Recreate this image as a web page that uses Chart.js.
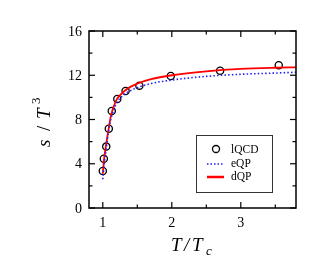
<!DOCTYPE html>
<html>
<head>
<meta charset="utf-8">
<script src="https://cdn.jsdelivr.net/npm/chart.js@4.4.1/dist/chart.umd.min.js"></script>
<style>
  html, body { margin: 0; padding: 0; background: #fff; overflow: hidden; }
  #grafico { display: block; }
</style>
</head>
<body>
<canvas id="grafico" width="327" height="269"></canvas>
<script>
// lattice points
const lqcdT = [1.0, 1.015, 1.05, 1.087, 1.13, 1.21, 1.33, 1.53, 1.985, 2.70, 3.55];
const lqcdS = [3.35, 4.46, 5.55, 7.17, 8.77, 9.86, 10.58, 11.06, 11.93, 12.41, 12.9];

// curves
const curveT = [1.0, 1.02, 1.05, 1.08, 1.12, 1.16, 1.2, 1.3, 1.4, 1.5, 1.7, 2.0, 2.5, 3.0, 3.5, 3.8];
const dqpS = [3.1, 4.5, 5.8, 7.0, 8.4, 9.2, 9.8, 10.5, 10.95, 11.25, 11.65, 12.0, 12.35, 12.57, 12.68, 12.72];
const eqpS = [2.6, 4.0, 5.4, 6.8, 8.1, 8.9, 9.5, 10.2, 10.6, 10.88, 11.25, 11.57, 11.9, 12.09, 12.2, 12.27];

const xTicks = [1, 2, 3];
const xMinor = [1.5, 2.5, 3.5];
const yTicks = [0, 4, 8, 12, 16];
const yMinor = [2, 6, 10, 14];

const pares = (xs, ys) => xs.map((x, i) => ({ x: x, y: ys[i] }));

const serif = '"Liberation Serif", "DejaVu Serif", serif';

// ejes, marcos y leyenda
const marco = {
  id: "marco",
  afterDraw(chart) {
    const c = chart.ctx;
    const a = chart.chartArea;
    const sx = chart.scales.x, sy = chart.scales.y;
    c.save();
    c.strokeStyle = "#000";
    c.lineWidth = 1.5;
    c.strokeRect(a.left, a.top, a.right - a.left, a.bottom - a.top);

    c.lineWidth = 1.2;
    const tick = (x1, y1, x2, y2) => { c.beginPath(); c.moveTo(x1, y1); c.lineTo(x2, y2); c.stroke(); };
    xTicks.forEach(v => { const p = sx.getPixelForValue(v); tick(p, a.bottom, p, a.bottom - 6); tick(p, a.top, p, a.top + 6); });
    xMinor.forEach(v => { const p = sx.getPixelForValue(v); tick(p, a.bottom, p, a.bottom - 3.5); tick(p, a.top, p, a.top + 3.5); });
    yTicks.forEach(v => { const p = sy.getPixelForValue(v); tick(a.left, p, a.left + 6, p); tick(a.right, p, a.right - 6, p); });
    yMinor.forEach(v => { const p = sy.getPixelForValue(v); tick(a.left, p, a.left + 3.5, p); tick(a.right, p, a.right - 3.5, p); });

    // etiquetas
    c.fillStyle = "#000";
    c.font = "14px " + serif;
    c.textAlign = "center";
    c.textBaseline = "top";
    xTicks.forEach(v => c.fillText(String(v), sx.getPixelForValue(v), a.bottom + 8));
    c.textAlign = "right";
    c.textBaseline = "middle";
    yTicks.forEach(v => c.fillText(String(v), a.left - 7, sy.getPixelForValue(v) + 1));

    // titulo x: T/T_c
    c.textBaseline = "alphabetic";
    c.textAlign = "left";
    c.font = "italic 19px " + serif;
    const x0 = 171, yb = 251;
    c.fillText("T", x0, yb);
    c.fillText("/", x0 + 13, yb);
    c.fillText("T", x0 + 21, yb);
    c.font = "italic 13px " + serif;
    c.fillText("c", x0 + 35, yb + 4);

    // titulo y: s / T^3
    c.save();
    c.translate(50, 120);
    c.rotate(-Math.PI / 2);
    c.textAlign = "left";
    c.font = "italic 19px " + serif;
    const xs = -27;
    c.fillText("s", xs, 0);
    c.font = "19px " + serif;
    c.fillText("/", xs + 16, 0);
    c.font = "italic 19px " + serif;
    c.fillText("T", xs + 28, 0);
    c.font = "13px " + serif;
    c.fillText("3", xs + 43, -10);
    c.restore();

    // leyenda
    const bx = 196, by = 135, bw = 76, bh = 57;
    c.fillStyle = "#fff";
    c.fillRect(bx, by, bw, bh);
    c.strokeStyle = "#333";
    c.lineWidth = 1;
    c.strokeRect(bx + 0.5, by + 0.5, bw, bh);
    c.font = "11.5px " + serif;
    c.fillStyle = "#000";
    c.textAlign = "left";
    c.textBaseline = "middle";
    c.lineWidth = 1.3;
    c.strokeStyle = "#000";
    c.beginPath(); c.arc(216, 149, 3.5, 0, Math.PI * 2); c.stroke();
    c.fillText("lQCD", 231, 149.5);
    c.strokeStyle = "#1f1fff";
    c.lineWidth = 1.5;
    c.setLineDash([1.5, 2]);
    c.beginPath(); c.moveTo(207, 164); c.lineTo(224, 164); c.stroke();
    c.setLineDash([]);
    c.fillText("eQP", 231, 164);
    c.strokeStyle = "#ff0000";
    c.lineWidth = 2.5;
    c.beginPath(); c.moveTo(207, 177); c.lineTo(224, 177); c.stroke();
    c.fillText("dQP", 231, 177);
    c.restore();
  }
};

new Chart(document.getElementById("grafico"), {
  type: "scatter",
  data: {
    datasets: [
      {
        label: "eQP",
        data: pares(curveT, eqpS),
        showLine: true,
        borderColor: "#1f1fff",
        borderWidth: 1.6,
        borderDash: [1.5, 2.2],
        pointRadius: 0,
        cubicInterpolationMode: "monotone",
      },
      {
        label: "dQP",
        data: pares(curveT, dqpS),
        showLine: true,
        borderColor: "#ff0000",
        borderWidth: 1.8,
        pointRadius: 0,
        cubicInterpolationMode: "monotone",
      },
      {
        label: "lQCD",
        data: pares(lqcdT, lqcdS),
        showLine: false,
        pointRadius: 3.6,
        pointBorderWidth: 1.3,
        pointBorderColor: "#000",
        pointBackgroundColor: "rgba(0,0,0,0)",
      },
    ],
  },
  options: {
    responsive: false,
    animation: false,
    devicePixelRatio: 1,
    layout: { padding: { left: 89, top: 31, right: 31, bottom: 61 } },
    plugins: { legend: { display: false }, tooltip: { enabled: false } },
    scales: {
      x: { type: "linear", min: 0.8, max: 3.8, display: false },
      y: { type: "linear", min: 0, max: 16, display: false },
    },
  },
  plugins: [marco],
});
</script>
</body>
</html>
